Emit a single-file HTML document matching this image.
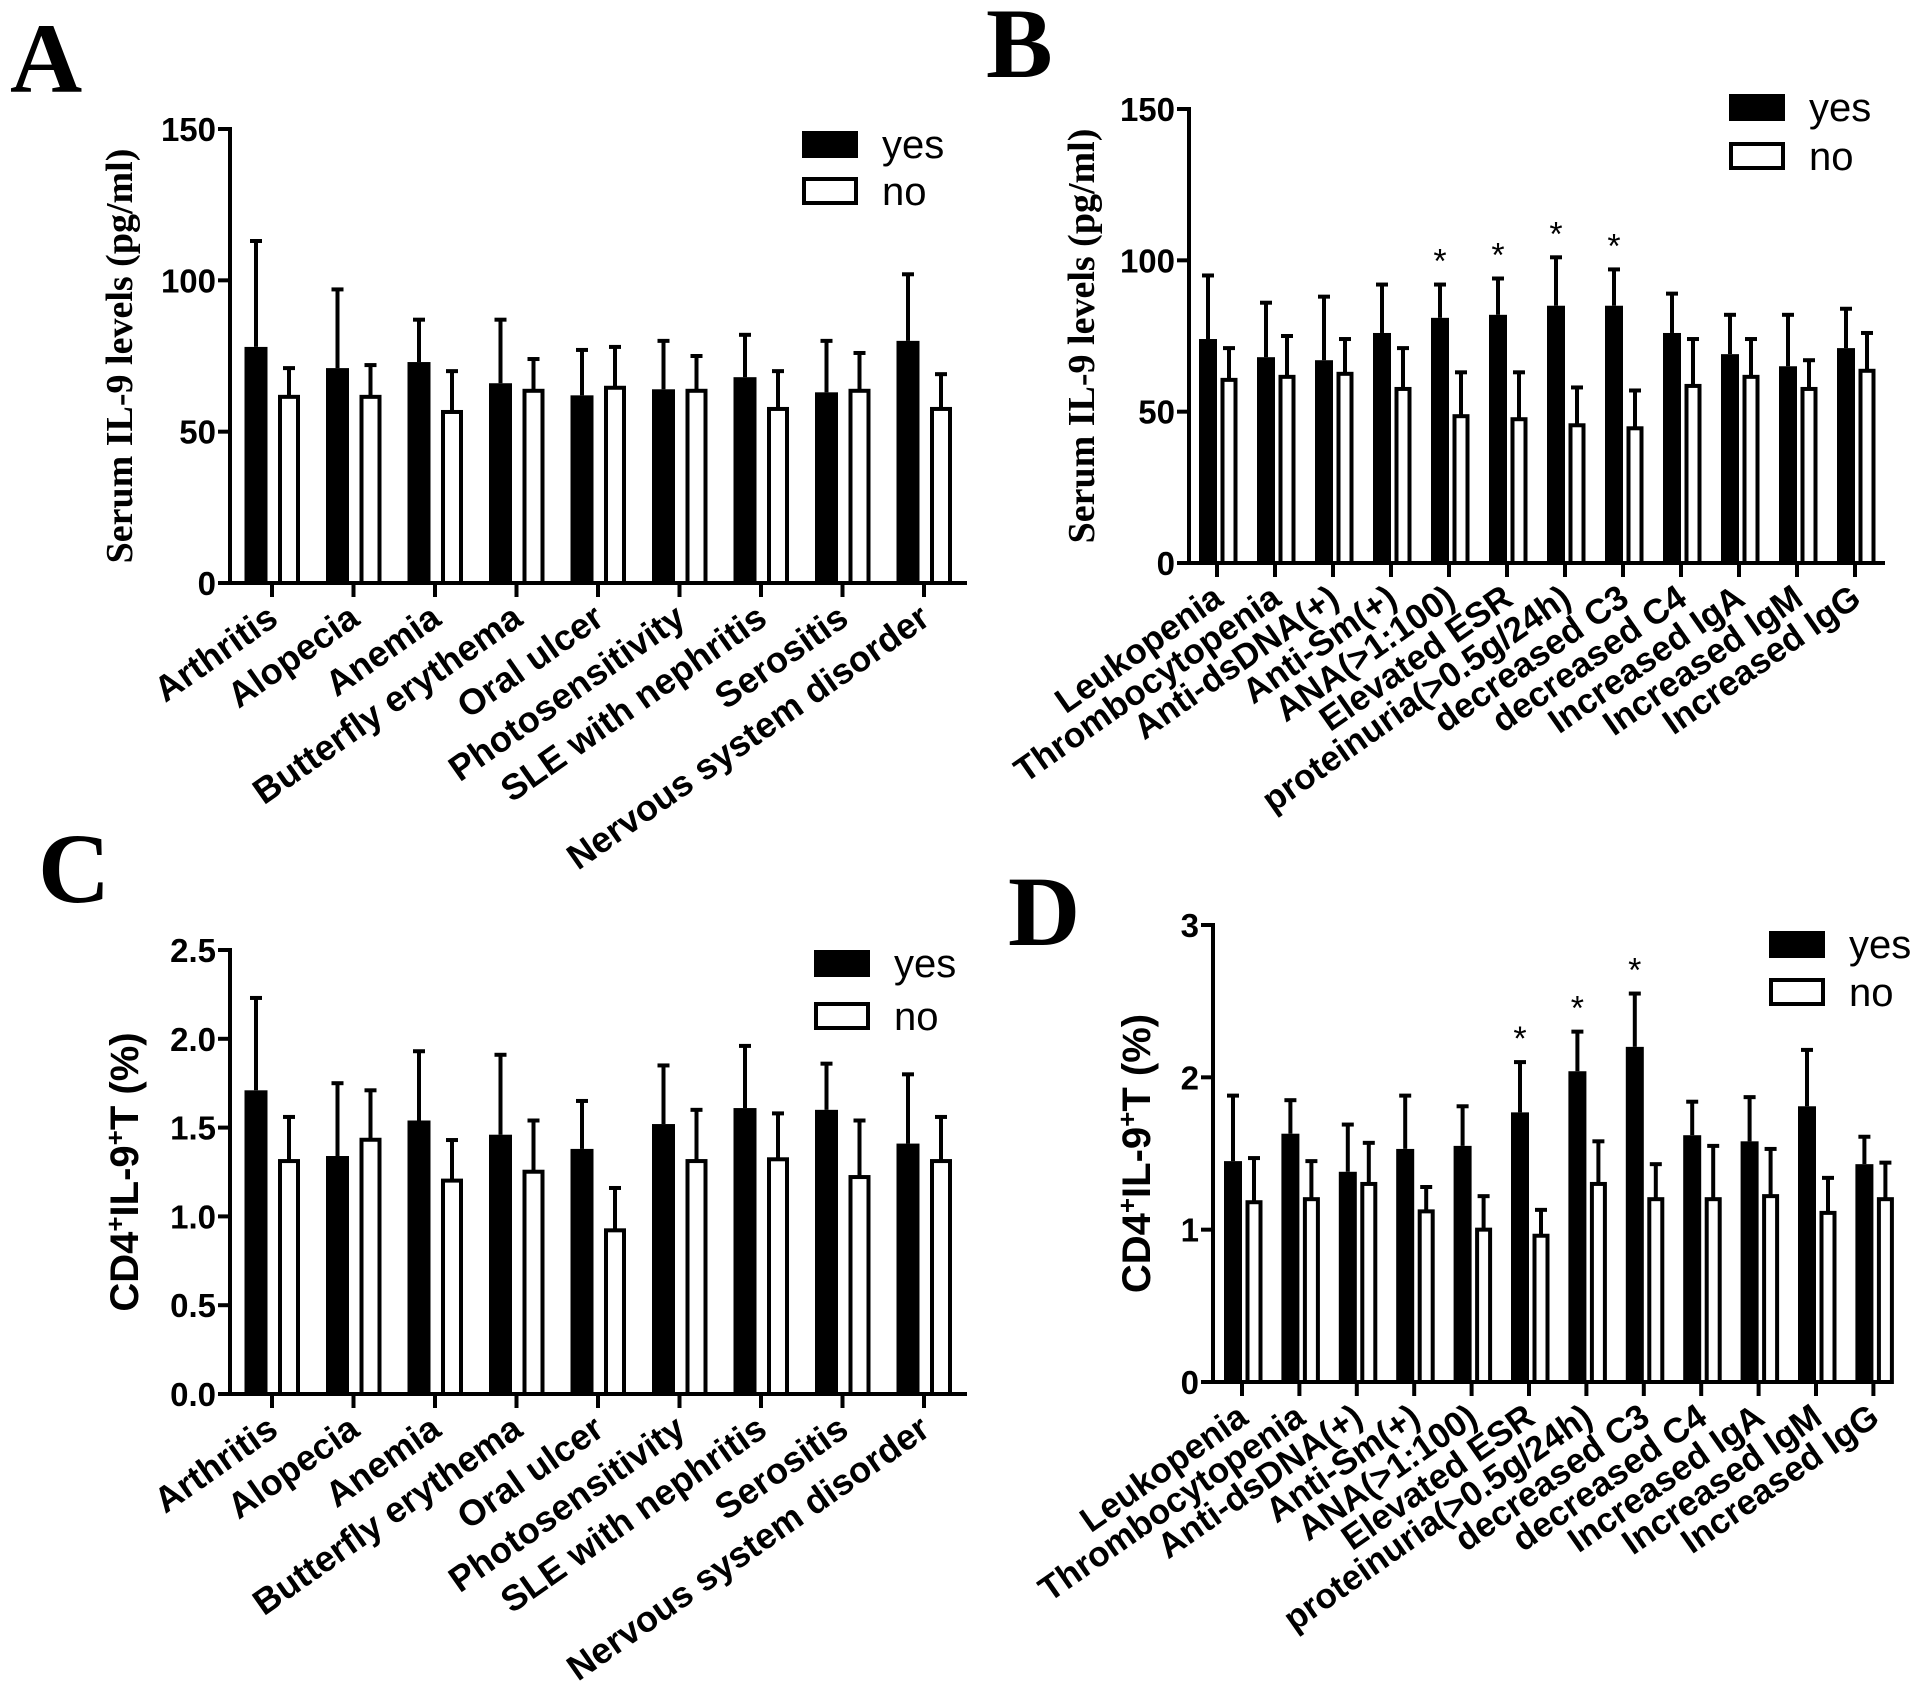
<!DOCTYPE html>
<html><head><meta charset="utf-8"><style>
html,body{margin:0;padding:0;background:#fff}
svg{display:block}
</style></head><body>
<svg id="fig" width="1913" height="1687" viewBox="0 0 1913 1687" xmlns="http://www.w3.org/2000/svg" font-family="Liberation Sans, Arial, sans-serif"></svg>
<script>
// ---- Data ----
const catsAC = ["Arthritis","Alopecia","Anemia","Butterfly erythema","Oral ulcer","Photosensitivity","SLE with nephritis","Serositis","Nervous system disorder"];
const catsBD = ["Leukopenia","Thrombocytopenia","Anti-dsDNA(+)","Anti-Sm(+)","ANA(>1:100)","Elevated ESR","proteinuria(>0.5g/24h)","decreased C3","decreased C4","Increased IgA","Increased IgM","Increased IgG"];

const aYes = [78,71,73,66,62,64,68,63,80];
const aYesErr = [113,97,87,87,77,80,82,80,102];
const aNo = [62,62,57,64,65,64,58,64,58];
const aNoErr = [71,72,70,74,78,75,70,76,69];
const aTicks = [0,50,100,150];

const bYes = [74,68,67,76,81,82,85,85,76,69,65,71];
const bYesErr = [95,86,88,92,92,94,101,97,89,82,82,84];
const bNo = [61,62,63,58,49,48,46,45,59,62,58,64];
const bNoErr = [71,75,74,71,63,63,58,57,74,74,67,76];
const bStars = [0,0,0,0,1,1,1,1,0,0,0,0];
const bTicks = [0,50,100,150];

const cYes = [1.71,1.34,1.54,1.46,1.38,1.52,1.61,1.60,1.41];
const cYesErr = [2.23,1.75,1.93,1.91,1.65,1.85,1.96,1.86,1.80];
const cNo = [1.32,1.44,1.21,1.26,0.93,1.32,1.33,1.23,1.32];
const cNoErr = [1.56,1.71,1.43,1.54,1.16,1.60,1.58,1.54,1.56];
const cTicks = ["0.0","0.5","1.0","1.5","2.0","2.5"];

const dYes = [1.45,1.63,1.38,1.53,1.55,1.77,2.04,2.20,1.62,1.58,1.81,1.43];
const dYesErr = [1.88,1.85,1.69,1.88,1.81,2.10,2.30,2.55,1.84,1.87,2.18,1.61];
const dNo = [1.19,1.21,1.31,1.13,1.01,0.97,1.31,1.21,1.21,1.23,1.12,1.21];
const dNoErr = [1.47,1.45,1.57,1.28,1.22,1.13,1.58,1.43,1.55,1.53,1.34,1.44];
const dStars = [0,0,0,0,0,1,1,1,0,0,0,0];
const dTicks = ["0","1","2","3"];

const NS="http://www.w3.org/2000/svg";
const svg=document.getElementById('fig');
function mk(tag,attrs,parent){const e=document.createElementNS(NS,tag);for(const k in attrs)e.setAttribute(k,attrs[k]);(parent||svg).appendChild(e);return e;}

function panel(o){
  const g=mk('g',{});
  
  
  const ymax=o.ymax;
  const Y=v=>o.y0-(v/ymax)*(o.y0-o.yTop);
  const X=i=>o.tick0+i*o.step;
  const L=mk('text',{x:o.lx,y:o.ly,'font-family':'Liberation Serif, serif','font-weight':'bold','font-size':100},g);
  L.textContent=o.letter;
  
  
  o.yes.forEach((v,i)=>{
    const cx=X(i)+o.offY, w=o.wY;
    const e1=mk('line',{x1:cx,x2:cx,y1:Y(v),y2:Y(o.yesErr[i]),stroke:'#000','stroke-width':4},g);
    
    
    const c1=mk('line',{x1:cx-6,x2:cx+6,y1:Y(o.yesErr[i]),y2:Y(o.yesErr[i]),stroke:'#000','stroke-width':4},g);
    
    
    const r=mk('rect',{x:cx-w/2,y:Y(v),width:w,height:o.y0-Y(v),fill:'#000'},g);
    
    
    const nv=o.no[i], nx=X(i)+o.offN, nw=o.wN;
    const e2=mk('line',{x1:nx,x2:nx,y1:Y(nv),y2:Y(o.noErr[i]),stroke:'#000','stroke-width':4},g);
    
    
    const c2=mk('line',{x1:nx-6,x2:nx+6,y1:Y(o.noErr[i]),y2:Y(o.noErr[i]),stroke:'#000','stroke-width':4},g);
    
    
    const r2=mk('rect',{x:nx-nw/2+1.5,y:Y(nv)+1.5,width:nw-3,height:o.y0-Y(nv)-1.5,fill:'#fff',stroke:'#000','stroke-width':4},g);
    
    
    if(o.stars&&o.stars[i]){
      const s=mk('text',{x:cx,y:Y(o.yesErr[i])-12,'text-anchor':'middle','font-size':34},g);
      s.textContent='*';
      
      
    }
    const t=mk('line',{x1:X(i),x2:X(i),y1:o.y0,y2:o.y0+14,stroke:'#000','stroke-width':4},g);
    
    
    const lx=X(i)+8, ly=o.y0+40;
    const lb=mk('text',{x:lx,y:ly,'text-anchor':'end','font-weight':'bold','font-size':o.lfs,transform:`rotate(${o.rot} ${lx} ${ly})`},g);
    lb.textContent=o.cats[i];
    
    
  });
  const ax=mk('line',{x1:o.ax,x2:o.ax,y1:o.yTop-2,y2:o.y0+2,stroke:'#000','stroke-width':4},g);
  
  
  const xa=mk('line',{x1:o.ax-12,x2:o.xEnd,y1:o.y0,y2:o.y0,stroke:'#000','stroke-width':4},g);
  
  
  o.ticks.forEach(tv=>{
    const y=Y(parseFloat(tv));
    const tk=mk('line',{x1:o.ax-12,x2:o.ax,y1:y,y2:y,stroke:'#000','stroke-width':4},g);
    
    
    const tl=mk('text',{x:o.ax-14,y:y+12,'text-anchor':'end','font-weight':'bold','font-size':33},g);
    tl.textContent=tv;
    
    
  });
  const tx=o.tX, ty=(o.yTop+o.y0)/2;
  const tt=mk('text',{x:tx,y:ty,'text-anchor':'middle','font-weight':'bold','font-size':o.tfs,'font-family':o.tFont,transform:`rotate(-90 ${tx} ${ty})`},g);
  
  
  tt.innerHTML=o.title;
  const ly=mk('rect',{x:o.lgx,y:o.lgy,width:56,height:27,fill:'#000'},g);
  
  
  const ln=mk('rect',{x:o.lgx+2,y:o.lgy+o.lgd+2,width:52,height:24,fill:'#fff',stroke:'#000','stroke-width':4},g);
  
  
  const t1=mk('text',{x:o.lgx+80,y:o.lgy+27,'font-size':40},g);
  t1.textContent='yes';
  
  
  const t2=mk('text',{x:o.lgx+80,y:o.lgy+o.lgd+28,'font-size':40},g);
  t2.textContent='no';
  
  
}

const serif='Liberation Serif, serif', sans='Liberation Sans, Arial, sans-serif';
const cdTitle='CD4<tspan dy="-14" font-size="26">+</tspan><tspan dy="14">IL-9</tspan><tspan dy="-14" font-size="26">+</tspan><tspan dy="14">T (%)</tspan>';
panel({letter:'A',lx:10,ly:92,cats:catsAC,yes:aYes,yesErr:aYesErr,no:aNo,noErr:aNoErr,ticks:aTicks,ymax:150,
  y0:583,yTop:129,ax:230,xEnd:967,tick0:272,step:81.5,offY:-16,offN:17,wY:23,wN:21,rot:-35,lfs:36,
  tX:132,tfs:38,tFont:serif,title:'Serum IL-9 levels (pg/ml)',lgx:802,lgy:131,lgd:46});
panel({letter:'B',lx:986,ly:77,cats:catsBD,yes:bYes,yesErr:bYesErr,no:bNo,noErr:bNoErr,stars:bStars,ticks:bTicks,ymax:150,
  y0:563,yTop:109,ax:1189,xEnd:1885,tick0:1217,step:58,offY:-9,offN:12,wY:18,wN:16,rot:-35,lfs:35,
  tX:1094,tfs:38,tFont:serif,title:'Serum IL-9 levels (pg/ml)',lgx:1729,lgy:94,lgd:48});
panel({letter:'C',lx:38,ly:902,cats:catsAC,yes:cYes,yesErr:cYesErr,no:cNo,noErr:cNoErr,ticks:cTicks,ymax:2.5,
  y0:1394,yTop:950,ax:230,xEnd:967,tick0:272,step:81.5,offY:-16,offN:17,wY:23,wN:21,rot:-35,lfs:36,
  tX:138,tfs:40,tFont:sans,title:cdTitle,lgx:814,lgy:950,lgd:52});
panel({letter:'D',lx:1008,ly:945,cats:catsBD,yes:dYes,yesErr:dYesErr,no:dNo,noErr:dNoErr,stars:dStars,ticks:dTicks,ymax:3,
  y0:1382,yTop:925,ax:1213,xEnd:1891,tick0:1242,step:57.4,offY:-9,offN:12,wY:18,wN:16,rot:-35,lfs:35,
  tX:1150,tfs:40,tFont:sans,title:cdTitle,lgx:1769,lgy:931,lgd:47});
</script>
</body></html>
